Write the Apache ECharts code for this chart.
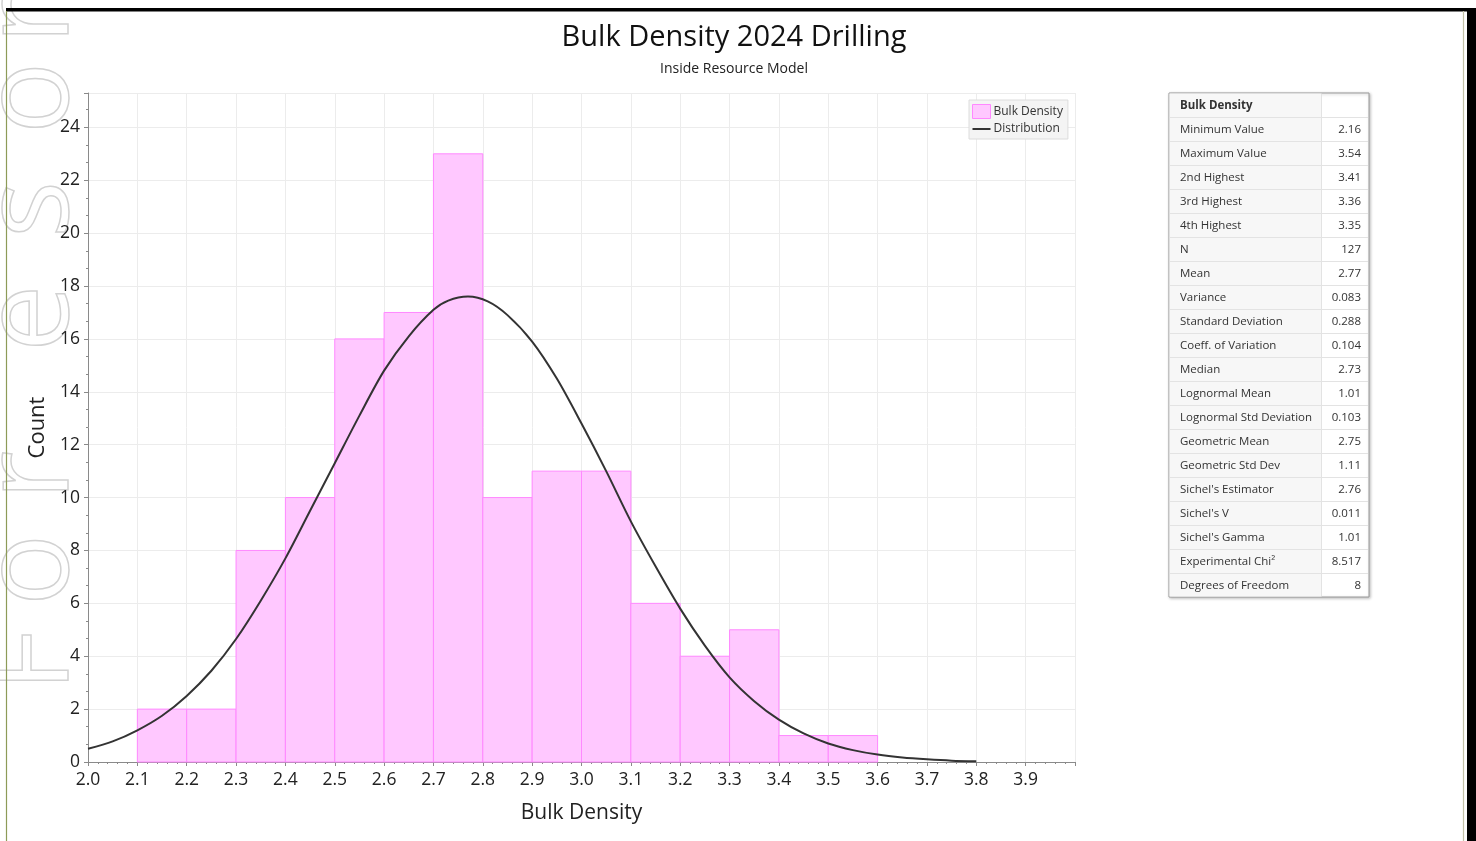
<!DOCTYPE html>
<html>
<head>
<meta charset="utf-8">
<title>Bulk Density 2024 Drilling</title>
<script src="https://cdn.jsdelivr.net/npm/echarts@6/dist/echarts.min.js"></script>
<style>
  html, body { margin: 0; padding: 0; background: #fff; }
  #chart { width: 1476px; height: 841px; }
</style>
</head>
<body>
<div id="chart"></div>
<script>
// histogram bins (lower edge) and counts
const binWidth = 0.1
const binStart = [2.1, 2.2, 2.3, 2.4, 2.5, 2.6, 2.7, 2.8, 2.9, 3.0, 3.1, 3.2, 3.3, 3.4, 3.5]
const counts   = [2, 2, 8, 10, 16, 17, 23, 10, 11, 11, 6, 4, 5, 1, 1]

// fitted distribution curve
const curveX = [2.00, 2.05, 2.10, 2.15, 2.20, 2.25, 2.30, 2.35, 2.40, 2.45, 2.50, 2.55, 2.60,
                2.65, 2.70, 2.73, 2.77, 2.81, 2.85, 2.90, 2.95, 3.00, 3.05, 3.10, 3.15, 3.20, 3.25,
                3.30, 3.35, 3.40, 3.45, 3.50, 3.55, 3.60, 3.65, 3.70, 3.75, 3.80]
const curveY = [0.5, 0.78, 1.2, 1.75, 2.5, 3.45, 4.65, 6.1, 7.7, 9.5, 11.3, 13.1, 14.8,
                16.1, 17.1, 17.45, 17.6, 17.42, 16.9, 15.9, 14.5, 12.8, 11.0, 9.1, 7.4, 5.8, 4.4,
                3.2, 2.3, 1.6, 1.08, 0.7, 0.45, 0.28, 0.17, 0.1, 0.05, 0.03]

// statistics table
const statLabels = ['Minimum Value', 'Maximum Value', '2nd Highest', '3rd Highest', '4th Highest',
  'N', 'Mean', 'Variance', 'Standard Deviation', 'Coeff. of Variation', 'Median',
  'Lognormal Mean', 'Lognormal Std Deviation', 'Geometric Mean', 'Geometric Std Dev',
  "Sichel's Estimator", "Sichel's V", "Sichel's Gamma", 'Experimental Chi²', 'Degrees of Freedom']
const statValues = ['2.16', '3.54', '3.41', '3.36', '3.35', '127', '2.77', '0.083', '0.288', '0.104',
  '2.73', '1.01', '0.103', '2.75', '1.11', '2.76', '0.011', '1.01', '8.517', '8']

const font = '"Open Sans", "Noto Sans", sans-serif'
const chart = echarts.init(document.getElementById('chart'))

function buildTable() {
  const x0 = 1169, y0 = 93, w1 = 152, w2 = 48, rowH = 24
  const els = []
  const rows = [['Bulk Density', '']].concat(statLabels.map((l, i) => [l, statValues[i]]))
  els.push({type: 'rect', shape: {x: x0, y: y0, width: w1 + w2, height: rowH * rows.length},
    style: {fill: '#fff', stroke: '#9a9a9a', lineWidth: 1, shadowBlur: 3, shadowColor: 'rgba(0,0,0,0.25)', shadowOffsetX: 1, shadowOffsetY: 1}})
  els.push({type: 'rect', shape: {x: x0 + 0.5, y: y0 + 0.5, width: w1, height: rowH * rows.length - 1},
    style: {fill: '#f7f7f7'}})
  rows.forEach((r, i) => {
    const y = y0 + i * rowH
    if (i > 0) {
      els.push({type: 'line', shape: {x1: x0 + 1, y1: y + 0.5, x2: x0 + w1 + w2 - 1, y2: y + 0.5},
        style: {stroke: '#e3e3e3', lineWidth: 1}})
    }
    els.push({type: 'text', x: x0 + 11, y: y + rowH / 2 + 1,
      style: {text: r[0], font: (i === 0 ? 'bold ' : '') + '11.5px ' + font, fill: '#333', verticalAlign: 'middle'}})
    els.push({type: 'text', x: x0 + w1 + w2 - 8, y: y + rowH / 2 + 1,
      style: {text: r[1], font: '11.5px ' + font, fill: '#333', align: 'right', verticalAlign: 'middle'}})
  })
  els.push({type: 'line', shape: {x1: x0 + w1 + 0.5, y1: y0 + 1, x2: x0 + w1 + 0.5, y2: y0 + rowH * rows.length - 1},
    style: {stroke: '#e3e3e3', lineWidth: 1}})
  return els
}

// outlined watermark letters down the left edge (reading bottom to top)
function buildWatermark() {
  const letters = ['F', 'o', 'r', 'e', 's', 'o', 'r']
  const starts  = [692, 606, 500, 352, 238, 134, 44]
  return letters.map((ch, i) => ({
    type: 'text', x: 94, y: starts[i], rotation: Math.PI / 2, z: -10, silent: true,
    style: {text: ch, font: '120px "Open Sans", sans-serif', fill: 'rgba(0,0,0,0)',
      stroke: '#d2d2d2', lineWidth: 1.5, align: 'left', verticalAlign: 'bottom'}
  }))
}

const option = {
  backgroundColor: '#fff',
  animation: false,
  title: {
    text: 'Bulk Density 2024 Drilling',
    subtext: 'Inside Resource Model',
    left: 729, top: 18, textAlign: 'center',
    itemGap: 10,
    textStyle: {fontFamily: font, fontSize: 29, fontWeight: 'normal', color: '#111'},
    subtextStyle: {fontFamily: font, fontSize: 14, color: '#222'}
  },
  legend: {
    orient: 'vertical',
    left: 969, top: 100,
    padding: [4, 5, 4, 3],
    itemGap: 4,
    itemWidth: 18, itemHeight: 14,
    backgroundColor: '#f4f4f4',
    borderColor: '#dcdcdc', borderWidth: 1,
    textStyle: {fontFamily: font, fontSize: 12, color: '#333', padding: [0, 0, 0, -2]},
    data: [
      {name: 'Bulk Density', icon: 'rect', itemStyle: {color: '#ffc8ff', borderColor: '#ff88ff', borderWidth: 1}},
      {name: 'Distribution', icon: 'path://M0,6 L18,6 L18,8 L0,8 Z', itemStyle: {color: '#333'}}
    ]
  },
  grid: {left: 88, right: 401, top: 93, bottom: 79},
  xAxis: {
    type: 'value',
    min: 2.0, max: 4.0, interval: 0.1,
    name: 'Bulk Density', nameLocation: 'middle', nameGap: 41,
    nameTextStyle: {fontFamily: font, fontSize: 21, color: '#222'},
    axisLine: {show: true, lineStyle: {color: '#8a8a8a', width: 1}},
    axisTick: {show: true, length: 4, lineStyle: {color: '#8a8a8a'}},
    minorTick: {show: true, splitNumber: 5, length: 2, lineStyle: {color: '#8a8a8a'}},
    axisLabel: {showMaxLabel: false, margin: 9, fontFamily: font, fontSize: 17.5, color: '#222',
      formatter: v => v.toFixed(1)},
    splitLine: {show: true, lineStyle: {color: '#ececec', width: 1}}
  },
  yAxis: {
    type: 'value',
    min: 0, max: 25.3, interval: 2,
    name: 'Count', nameLocation: 'middle', nameGap: 39,
    nameTextStyle: {fontFamily: font, fontSize: 22, color: '#222'},
    axisLine: {show: true, lineStyle: {color: '#8a8a8a', width: 1}},
    axisTick: {show: true, length: 4, lineStyle: {color: '#8a8a8a'}},
    minorTick: {show: true, splitNumber: 3, length: 2, lineStyle: {color: '#8a8a8a'}},
    axisLabel: {showMaxLabel: false, margin: 8, fontFamily: font, fontSize: 17.5, color: '#222'},
    splitLine: {show: true, lineStyle: {color: '#ececec', width: 1}}
  },
  series: [
    {
      name: 'Bulk Density',
      type: 'custom',
      data: binStart.map((x, i) => [x, counts[i]]),
      encode: {x: 0, y: 1},
      renderItem(params, api) {
        const p0 = api.coord([api.value(0), api.value(1)])
        const p1 = api.coord([api.value(0) + binWidth, 0])
        return {
          type: 'rect',
          shape: {x: p0[0], y: p0[1], width: p1[0] - p0[0], height: p1[1] - p0[1]},
          style: {fill: '#ffc8ff', stroke: '#ff88ff', lineWidth: 1}
        }
      },
      z: 2
    },
    {
      name: 'Distribution',
      type: 'line',
      data: curveX.map((x, i) => [x, curveY[i]]),
      smooth: 0.3,
      showSymbol: false,
      lineStyle: {color: '#333', width: 2},
      itemStyle: {color: '#333'},
      z: 3
    }
  ],
  graphic: buildWatermark().concat([
    // window frame
    {type: 'rect', shape: {x: 6, y: 8, width: 1470, height: 3.5}, style: {fill: '#000'}, z: 100},
    {type: 'rect', shape: {x: 1467, y: 8, width: 9, height: 833}, style: {fill: '#000'}, z: 100},
    {type: 'line', shape: {x1: 6.5, y1: 11, x2: 6.5, y2: 841}, style: {stroke: '#8d9b58', lineWidth: 1.2}, z: 100},
    {type: 'line', shape: {x1: 1463.5, y1: 11, x2: 1463.5, y2: 841}, style: {stroke: '#c2c2a8', lineWidth: 1.2}, z: 100}
  ]).concat(buildTable())
}

chart.setOption(option)
</script>
</body>
</html>
